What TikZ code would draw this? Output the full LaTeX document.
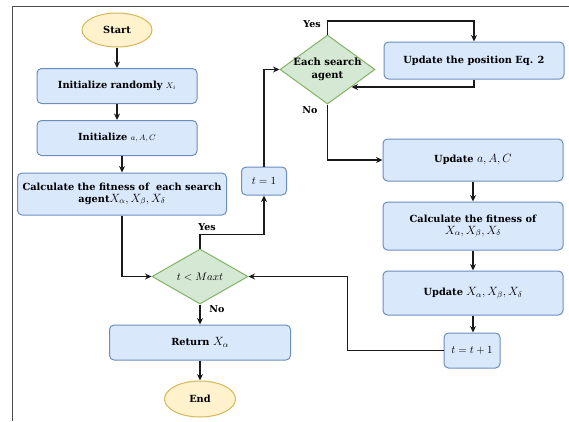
\documentclass[tikz,border=0pt]{standalone}
\usepackage{fontspec}
\setmainfont{DejaVu Serif}
\usetikzlibrary{shapes.geometric,arrows.meta,calc}
\definecolor{boxfill}{HTML}{DAE8FC}
\definecolor{boxline}{HTML}{6C8EBF}
\definecolor{diafill}{HTML}{D5E8D4}
\definecolor{dialine}{HTML}{82B366}
\definecolor{ellfill}{HTML}{FFF2CC}
\definecolor{ellline}{HTML}{D6B656}
\definecolor{conn}{HTML}{1A1A1A}
\newcommand{\mathbig}[1]{{\fontsize{12}{13}\selectfont$#1$}}
\newcommand{\mathmid}[1]{{\fontsize{10.5}{12}\selectfont$#1$}}
\newcommand{\mathsml}[1]{{\fontsize{8}{10}\selectfont$#1$}}
\tikzset{
  box/.style={draw=boxline, fill=boxfill, line width=1pt, rounded corners=4.5pt,
    inner sep=0pt, align=center, font=\fontsize{9.8}{13}\selectfont\bfseries},
  term/.style={draw=ellline, fill=ellfill, line width=1pt, ellipse, inner sep=0pt,
    font=\fontsize{9.8}{13}\selectfont\bfseries},
  dia/.style={draw=dialine, fill=diafill, line width=1pt, diamond, inner sep=0pt},
  diatext/.style={align=center, inner sep=0pt, font=\fontsize{10}{13}\selectfont\bfseries},
  lbl/.style={inner sep=0pt, font=\fontsize{9.5}{11}\selectfont\bfseries},
  flow/.style={draw=conn, line width=1.4pt, -{Stealth[length=6.5pt,width=6pt]}},
}
\begin{document}
\begin{tikzpicture}[x=1pt,y=-1pt]
\useasboundingbox (0,0) rectangle (569,421);
\draw[gray!60!black, line width=0.9pt] (12,421) -- (12,6) -- (569,6);

\node[term, minimum width=70pt, minimum height=34pt] (start) at (117,30) {Start};
\node[box, minimum width=160pt, minimum height=35pt] (init1) at (117,86) {Initialize randomly \mathsml{X_i}};
\node[box, minimum width=160pt, minimum height=35pt] (init2) at (117,138) {Initialize \mathsml{a, A, C}};
\node[box, minimum width=209pt, minimum height=42pt] (calc) at (122,194) {Calculate the fitness of \ each search\\[-1pt] agent\mathbig{X_\alpha, X_\beta, X_\delta}};
\node[box, minimum width=45pt, minimum height=28pt] (t1) at (264,181) {\mathmid{t=1}};

\node[dia, minimum width=95pt, minimum height=69pt] (each) at (327.5,69.5) {};
\node[diatext] (eachT) at (each) {Each search\\agent};
\node[box, minimum width=180pt, minimum height=37pt] (upd) at (474,60.5) {Update the position Eq. 2};
\node[box, minimum width=180pt, minimum height=42pt] (updA) at (473,160) {Update \mathbig{a, A, C}};
\node[box, minimum width=180pt, minimum height=48pt] (calcX) at (473,226) {Calculate the fitness of\\[-1pt]\mathbig{X_\alpha, X_\beta, X_\delta}};
\node[box, minimum width=180pt, minimum height=44pt] (updX) at (473,293) {Update \mathbig{X_\alpha, X_\beta, X_\delta}};
\node[box, minimum width=56pt, minimum height=35pt] (tinc) at (472,350.5) {\mathmid{t=t+1}};

\node[dia, minimum width=96pt, minimum height=55pt] (cond) at (200,276.5) {};
\node[diatext] (condT) at (cond) {\mathmid{t<Maxt}};
\node[box, minimum width=181pt, minimum height=35pt] (ret) at (200,342.5) {Return \mathbig{X_\alpha}};
\node[term, minimum width=71pt, minimum height=36pt] (endn) at (200,399) {End};

% labels
\node[lbl] (yes1) at (312,24) {Yes};
\node[lbl] (no1) at (310,110) {No};
\node[lbl] (yes2) at (207,227) {Yes};
\node[lbl] (no2) at (217,309) {No};

% connectors
\draw[flow] (start) -- (init1);
\draw[flow] (init1) -- (init2);
\draw[flow] (calc.north |- init2.south) -- (calc.north);
\draw[flow] (calc.south) |- (cond.west);
\draw[flow] (cond.north) -- ++(0,-14) -| (t1.south);
\draw[flow] (t1.north) |- (each.west);
\draw[flow] (each.north) -- ++(0,-13.5) -| (upd.north);
\draw[flow] (upd.south) |- ($(each.east)!0.5!(each.south)$);
\draw[flow] (each.south) |- (updA.west);
\draw[flow] (updA) -- (calcX);
\draw[flow] (calcX) -- (updX);
\draw[flow] (updX.south) -- (updX.south |- tinc.north);
\draw[flow] (tinc.west) -- ++(-96,0) |- (cond.east);
\draw[flow] (cond) -- (ret);
\draw[flow] (ret) -- (endn);
\end{tikzpicture}
\end{document}
